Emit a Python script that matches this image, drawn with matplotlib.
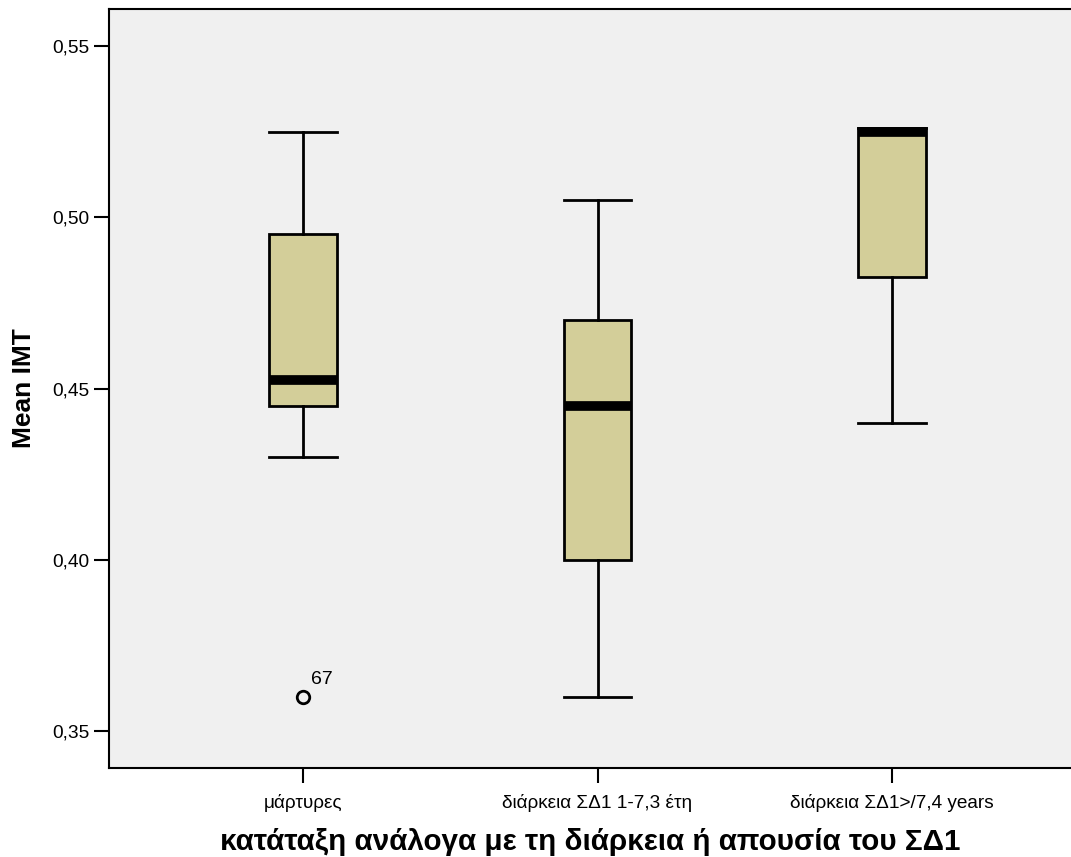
import matplotlib.pyplot as plt

plt.rcParams['font.family'] = ['Liberation Sans', 'DejaVu Sans']

# Five-number summaries per group (Mean IMT)
groups = ['μάρτυρες', 'διάρκεια ΣΔ1 1-7,3 έτη', 'διάρκεια ΣΔ1>/7,4 years']
whisker_low = [0.430, 0.360, 0.440]
q1 = [0.445, 0.400, 0.4825]
median = [0.4525, 0.445, 0.525]
q3 = [0.495, 0.470, 0.526]
whisker_high = [0.525, 0.505, 0.526]
outliers = [[0.360], [], []]
outlier_ids = [['67'], [], []]

yticks = [0.35, 0.40, 0.45, 0.50, 0.55]

fig = plt.figure(figsize=(10.71, 8.57), dpi=100)
ax = fig.add_axes([109 / 1071, 1 - 768 / 857, (1071 - 109) / 1071, (768 - 9) / 857])
ax.set_facecolor('#F0F0F0')

stats = []
for i in range(len(groups)):
    stats.append({
        'whislo': whisker_low[i], 'q1': q1[i], 'med': median[i],
        'q3': q3[i], 'whishi': whisker_high[i], 'fliers': [],
    })

positions = [1, 2, 3]
ax.bxp(stats, positions=positions, widths=0.23, patch_artist=True,
       showfliers=False, capwidths=0.23,
       boxprops=dict(facecolor='#D3CE99', edgecolor='black', linewidth=2),
       medianprops=dict(color='black', linewidth=7, solid_capstyle='butt'),
       whiskerprops=dict(color='black', linewidth=2),
       capprops=dict(color='black', linewidth=2))

for pos, vals, ids in zip(positions, outliers, outlier_ids):
    for v, lab in zip(vals, ids):
        ax.plot(pos, v, 'o', markerfacecolor='none', markeredgecolor='black',
                markeredgewidth=2, markersize=9)
        ax.annotate(lab, (pos, v), xytext=(6, 9), textcoords='offset points',
                    fontsize=14)

ax.set_xlim(0.342, 3.607)
ax.set_ylim(0.3392, 0.5608)
ax.set_xticks(positions)
ax.set_xticklabels(groups, fontsize=13.7)
ax.set_yticks(yticks)
ax.set_yticklabels([f'{t:.2f}'.replace('.', ',') for t in yticks], fontsize=13.8)
ax.tick_params(axis='both', direction='out', length=11, width=1.5, color='black')
ax.tick_params(axis='x', pad=8)
ax.tick_params(axis='y', pad=3)

for side in ['left', 'bottom', 'top']:
    ax.spines[side].set_linewidth(1.5)
ax.spines['right'].set_visible(False)

ax.set_ylabel('Mean IMT', fontsize=19, fontweight='bold', labelpad=12)
ax.set_xlabel('κατάταξη ανάλογα με τη διάρκεια ή απουσία του ΣΔ1',
              fontsize=21.3, fontweight='bold', labelpad=11)

fig.savefig('out.png', dpi=100, facecolor='white')
